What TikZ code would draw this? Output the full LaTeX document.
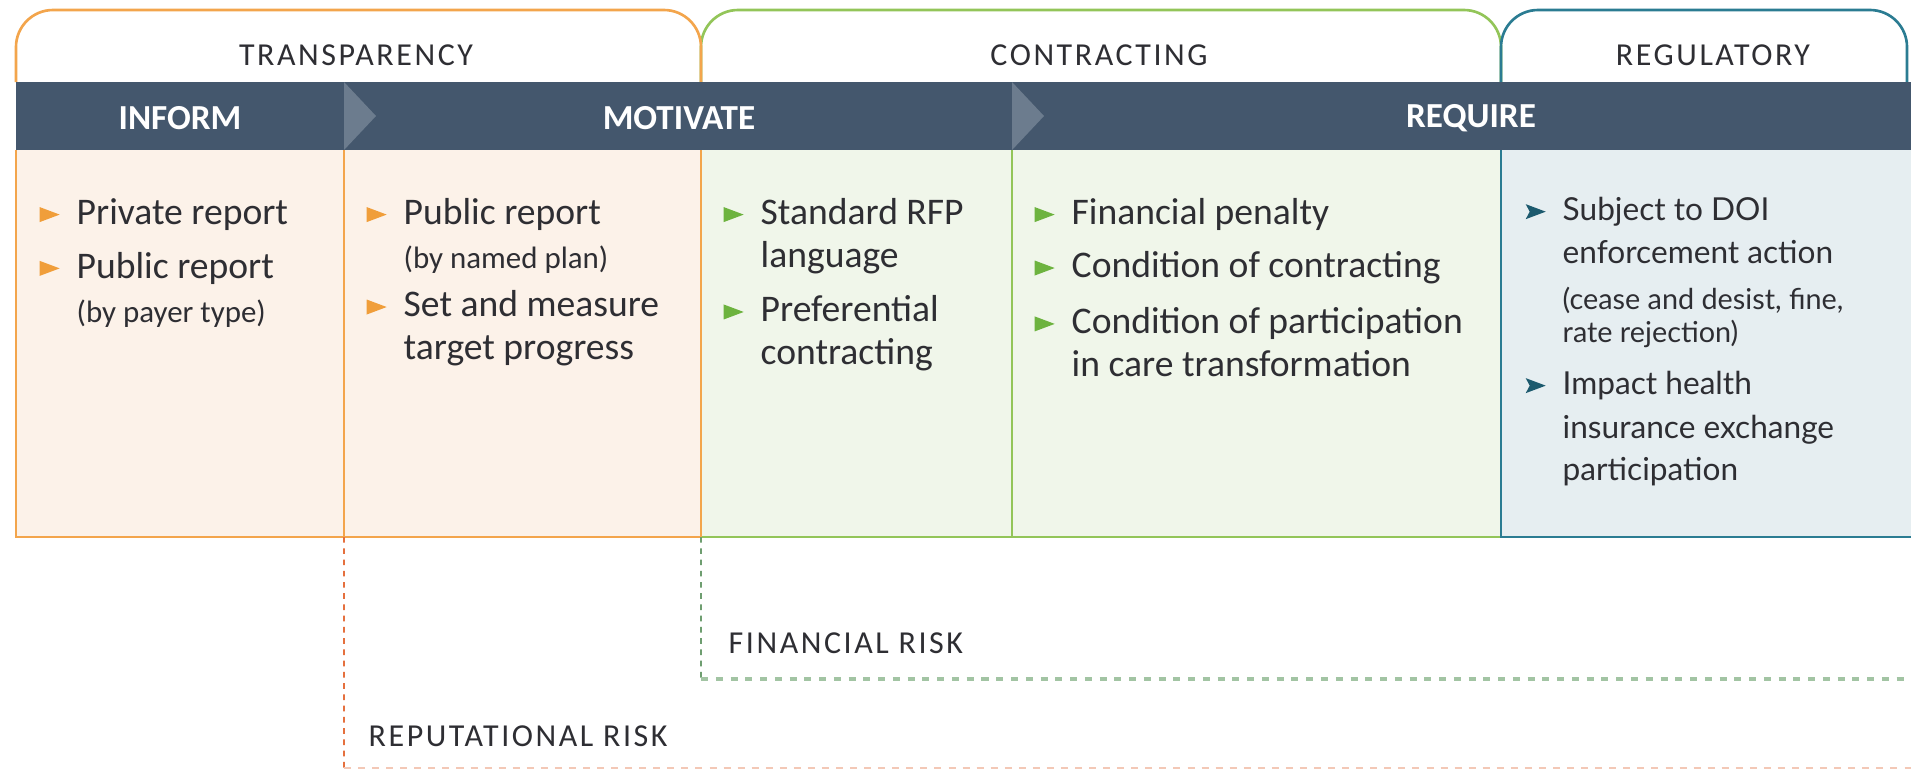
\documentclass[tikz,border=0pt]{standalone}
\usepackage{fontspec}
\setmainfont{Carlito}
\newfontfamily\capfont{Carlito}[LetterSpace=8]
\newfontfamily\regfont{Lato}
\usetikzlibrary{positioning}
\definecolor{bandblue}{HTML}{44576D}
\definecolor{chevgrey}{HTML}{6C7C8E}
\definecolor{transorange}{HTML}{F3A54C}
\definecolor{transfill}{HTML}{FCF2E9}
\definecolor{contgreen}{HTML}{93C559}
\definecolor{contfill}{HTML}{F0F6EA}
\definecolor{regteal}{HTML}{2B7C92}
\definecolor{regfill}{HTML}{E6EEF1}
\definecolor{bulorange}{HTML}{F09E3A}
\definecolor{bulgreen}{HTML}{6DB33F}
\definecolor{bulteal}{HTML}{1C5A6E}
\definecolor{txtdark}{HTML}{2E2E33}
\definecolor{reprisk}{HTML}{E5703E}
\definecolor{repline}{HTML}{F3C8B6}
\definecolor{finrisk}{HTML}{6E9E70}
\definecolor{finline}{HTML}{A2C4A3}

% small triangle bullets, the teal one notched
\newcommand{\bull}[1]{\tikz[baseline=-0.55ex]\fill[#1] (0,-0.075) -- (0.2,0) -- (0,0.075) -- cycle;}
\newcommand{\tealbull}{\tikz[baseline=-0.55ex]\fill[bulteal] (0,-0.075) -- (0.2,0) -- (0,0.075) -- (0.04,0) -- cycle;}
\newcommand{\sm}[1]{{\fontsize{8.8}{9.4}\selectfont #1}}

\begin{document}
\begin{tikzpicture}[
    grouplabel/.style={font=\capfont\fontsize{9.1}{10}\selectfont, text=txtdark},
    steplabel/.style={font=\bfseries\fontsize{10}{11}\selectfont, text=white},
    panel/.style={rectangle, inner sep=0pt, outer sep=0pt, minimum height=3.87cm},
    items/.style={anchor=north west, inner sep=0pt, text=txtdark, font=\fontsize{10.7}{12.1}\selectfont},
    bracket/.style={line width=0.75pt, rounded corners=0.37cm},
    edge/.style={line width=0.5pt},
    risklabel/.style={font=\capfont\fontsize{9.1}{10}\selectfont, text=txtdark, inner sep=0pt},
    repdash/.style={draw=reprisk, line width=0.5pt, dash pattern=on 1.6pt off 1.6pt},
    findash/.style={draw=finrisk, line width=0.5pt, dash pattern=on 1.6pt off 1.6pt}
  ]
    \fill[white] (0,0) rectangle (19.11,-7.70);
    \useasboundingbox (0,0) rectangle (19.11,-7.70);

    % panels under the band
    \node[panel, fill=transfill, minimum width=3.28cm] (informbox) at (1.80,-3.435) {};
    \node[panel, fill=transfill, minimum width=3.57cm] (motivbox) at (5.225,-3.435) {};
    \node[panel, fill=contfill, minimum width=3.11cm] (rfpbox) at (8.565,-3.435) {};
    \node[panel, fill=contfill, minimum width=4.89cm] (requirebox) at (12.565,-3.435) {};
    \node[panel, fill=regfill, minimum width=4.10cm] (regbox) at (17.06,-3.435) {};

    % group brackets
    \draw[contgreen, bracket] (7.01,-0.82) -- (7.01,-0.10) -- (15.01,-0.10) -- (15.01,-0.82);
    \draw[transorange, bracket] (0.16,-0.82) -- (0.16,-0.10) -- (7.01,-0.10) -- (7.01,-0.82);
    \draw[regteal, bracket] (15.01,-0.82) -- (15.01,-0.10) -- (19.07,-0.10) -- (19.07,-0.82);
    \node[grouplabel] (transp) at (3.56,-0.55) {TRANSPARENCY};
    \node[grouplabel] (contr) at (10.99,-0.55) {CONTRACTING};
    \node[grouplabel] (regul) at (17.13,-0.55) {REGULATORY};

    % band with chevrons
    \fill[bandblue] (0.16,-0.82) rectangle (19.11,-1.50);
    \fill[chevgrey] (3.44,-0.82) -- (3.76,-1.16) -- (3.44,-1.50) -- cycle;
    \fill[chevgrey] (10.12,-0.82) -- (10.44,-1.16) -- (10.12,-1.50) -- cycle;
    \node[steplabel] (inform) at (1.80,-1.18) {INFORM};
    \node[steplabel] (motivate) at (6.79,-1.18) {MOTIVATE};
    \node[steplabel] (require) at (14.71,-1.18) {REQUIRE};

    % panel edges
    \draw[contgreen, edge] (rfpbox.south west) -- (regbox.south west);
    \draw[contgreen, edge] (requirebox.north west) -- (requirebox.south west);
    \draw[transorange, edge] (informbox.north west) -- (informbox.south west) -- (motivbox.south east) -- (motivbox.north east);
    \draw[transorange, edge] (motivbox.north west) -- (motivbox.south west);
    \draw[regteal, line width=0.8pt] (regbox.north west) -- (regbox.south west) -- (regbox.south east);

    % bullet lists
    \node[items] (informlist) at (0.39,-1.94) {\begin{tabular}{@{}p{0.37cm}@{}l@{}}
      \bull{bulorange} & Private report\\[3.2pt]
      \bull{bulorange} & Public report\\[0.5pt]
      & \sm{(by payer type)}
    \end{tabular}};
    \node[items] (motivlist) at (3.66,-1.94) {\begin{tabular}{@{}p{0.37cm}@{}l@{}}
      \bull{bulorange} & Public report\\[0.5pt]
      & \sm{(by named plan)}\\[1.6pt]
      \bull{bulorange} & Set and measure\\
      & target progress
    \end{tabular}};
    \node[items] (rfplist) at (7.23,-1.94) {\begin{tabular}{@{}p{0.37cm}@{}l@{}}
      \bull{bulgreen} & Standard RFP\\
      & language\\[3.5pt]
      \bull{bulgreen} & Preferential\\
      & contracting
    \end{tabular}};
    \node[items] (requirelist) at (10.34,-1.94) {\begin{tabular}{@{}p{0.37cm}@{}l@{}}
      \bull{bulgreen} & Financial penalty\\[3.1pt]
      \bull{bulgreen} & Condition of contracting\\[3.8pt]
      \bull{bulgreen} & Condition of participation\\
      & in care transformation
    \end{tabular}};
    \node[items, font=\regfont\fontsize{9}{12.1}\selectfont] (reglist) at (15.25,-1.90) {\begin{tabular}{@{}p{0.37cm}@{}l@{}}
      \tealbull & Subject to DOI\\
      & enforcement action\\[1.2pt]
      & {\fontsize{8.2}{9}\selectfont (cease and desist, fine,}\\[-2.7pt]
      & {\fontsize{8.2}{9}\selectfont rate rejection)}\\[2.6pt]
      \tealbull & Impact health\\[0.3pt]
      & insurance exchange\\
      & participation
    \end{tabular}};

    % risk markers
    \coordinate (fincorner) at (7.01,-6.79);
    \coordinate (finend) at (19.11,-6.79);
    \coordinate (repcorner) at (3.44,-7.68);
    \coordinate (repend) at (19.11,-7.68);
    \path[findash] (rfpbox.south west) -- (fincorner);
    \path[draw=finline, line width=1.1pt, dash pattern=on 2pt off 2.2pt] (fincorner) -- (finend);
    \path[repdash] (motivbox.south west) -- (repcorner);
    \path[draw=repline, line width=0.6pt, dash pattern=on 2pt off 2pt] (repcorner) -- (repend);
    \node[risklabel, above right=0.245cm and 0.27cm of fincorner, anchor=south west] (finlabel) {FINANCIAL RISK};
    \node[risklabel, above right=0.21cm and 0.24cm of repcorner, anchor=south west] (replabel) {REPUTATIONAL RISK};
\end{tikzpicture}
\end{document}
